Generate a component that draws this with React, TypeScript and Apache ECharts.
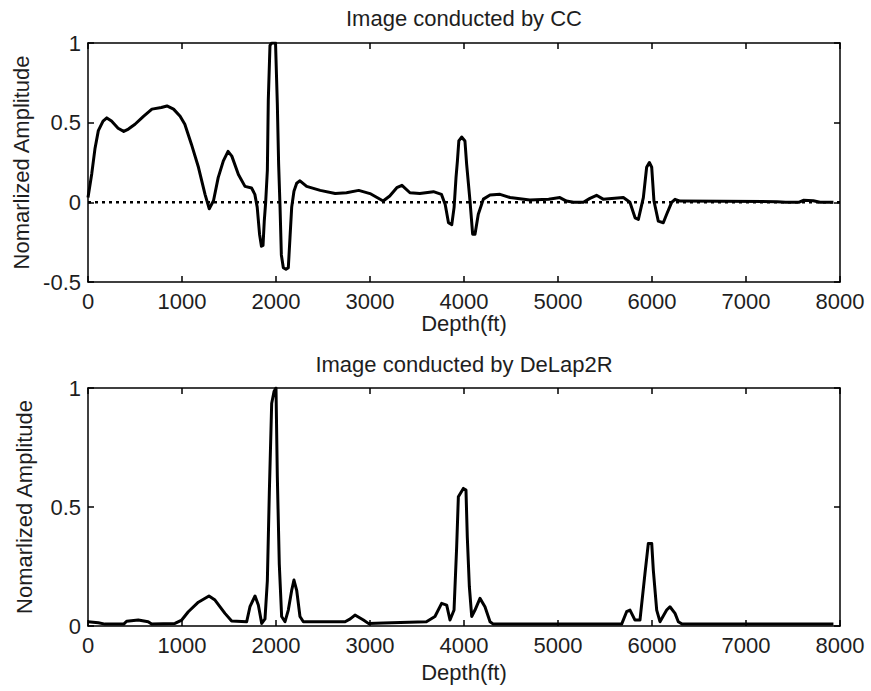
import React, { useEffect, useRef } from "react";
import * as echarts from "echarts";

// ---------- data ----------
const xTicks = [0, 1000, 2000, 3000, 4000, 5000, 6000, 7000, 8000];

const ccDepth = [
  0, 40, 75, 110, 160, 200, 250, 320, 380, 430, 500, 590, 680, 780, 840, 910, 980, 1030, 1100, 1175,
  1245, 1290, 1335, 1385, 1440, 1490, 1530, 1600, 1670, 1740, 1775, 1800, 1825, 1845, 1862, 1875, 1890,
  1908, 1918, 1936, 1955, 1995, 2014, 2028, 2043, 2057, 2078, 2106, 2131, 2149, 2167, 2191, 2220, 2255,
  2326, 2470, 2630, 2750, 2880, 3000, 3140, 3210, 3285, 3340, 3425, 3530, 3675, 3760, 3800, 3835, 3870,
  3895, 3915, 3930, 3945, 3975, 4010, 4028, 4064, 4092, 4117, 4152, 4206, 4277, 4383, 4490, 4700, 4900,
  5020, 5090, 5165, 5270, 5340, 5410, 5480, 5695, 5765, 5820, 5855, 5908, 5943, 5972, 5997, 6021, 6067,
  6120, 6156, 6209, 6245, 6300, 7330, 7420, 7560, 7610, 7716, 7787, 7930,
];
const ccValue = [
  0.03, 0.18, 0.34, 0.45, 0.51, 0.53, 0.51, 0.465, 0.445, 0.46, 0.49, 0.54, 0.585, 0.595, 0.605, 0.585, 0.54, 0.49, 0.365, 0.22,
  0.05, -0.04, 0.01, 0.155, 0.26, 0.32, 0.29, 0.175, 0.1, 0.09, 0.05, -0.03, -0.2, -0.275, -0.27, -0.12, 0.0,
  0.2, 0.64, 0.985, 1.0, 1.0, 0.62, 0.24, -0.03, -0.33, -0.41, -0.42, -0.41, -0.22, -0.03, 0.07, 0.12, 0.135,
  0.1, 0.075, 0.055, 0.06, 0.075, 0.055, 0.008, 0.04, 0.092, 0.107, 0.06, 0.055, 0.067, 0.05, -0.013, -0.128, -0.14,
  -0.03, 0.155, 0.26, 0.385, 0.41, 0.385, 0.24, 0.008, -0.2, -0.2, -0.075, 0.02, 0.046, 0.05, 0.03, 0.015, 0.02,
  0.03, 0.008, 0.0, 0.0, 0.025, 0.044, 0.02, 0.03, 0.0, -0.097, -0.107, 0.03, 0.22, 0.25, 0.22, 0.008, -0.118,
  -0.128, -0.075, 0.0, 0.019, 0.008, 0.004, 0.0, 0.0, 0.013, 0.01, 0.0, 0.0,
];

const dlDepth = [
  0, 110, 180, 380, 411, 535, 640, 677, 925, 997, 1067, 1174, 1287, 1351, 1457, 1528, 1688, 1723, 1777, 1812,
  1848, 1883, 1908, 1929, 1954, 1979, 2000, 2014, 2035, 2060, 2096, 2131, 2167, 2191, 2220, 2255, 2291, 2520,
  2735, 2790, 2840, 2930, 2986, 3140, 3600, 3691, 3762, 3816, 3851, 3894, 3922, 3940, 3993, 4021, 4035, 4057,
  4082, 4117, 4170, 4223, 4277, 4312, 5677, 5730, 5766, 5819, 5872, 5925, 5961, 5997, 6014, 6050, 6085, 6156,
  6191, 6245, 6280, 6320, 7930,
];
const dlValue = [
  0.018, 0.014, 0.008, 0.008, 0.02, 0.025, 0.018, 0.008, 0.011, 0.025, 0.06, 0.1, 0.126, 0.109, 0.053, 0.021, 0.018, 0.081, 0.126, 0.088,
  0.011, 0.03, 0.19, 0.56, 0.935, 0.985, 1.0, 0.63, 0.26, 0.04, 0.018, 0.067, 0.15, 0.193, 0.15, 0.04, 0.018, 0.018,
  0.018, 0.03, 0.046, 0.025, 0.01, 0.013, 0.018, 0.04, 0.095, 0.088, 0.025, 0.067, 0.333, 0.543, 0.578, 0.571, 0.375, 0.165,
  0.04, 0.067, 0.116, 0.081, 0.018, 0.008, 0.008, 0.06, 0.067, 0.025, 0.025, 0.22, 0.347, 0.347, 0.235, 0.067, 0.018, 0.067,
  0.081, 0.053, 0.018, 0.008, 0.008,
];

const zeroLine = [0, 8000];

const topTitle = "Image conducted by CC";
const bottomTitle = "Image conducted by DeLap2R";
const xName = "Depth(ft)";
const yName = "Nomarlized Amplitude";

// ---------- chart ----------
const FONT = "'Liberation Sans', Arial, Helvetica, sans-serif";
const TXT = "#1e1e1e";
const FS = 22;

function makeX(gridIndex: number, bottom: boolean, nameGap: number) {
  return {
    gridIndex,
    type: "value",
    min: xTicks[0],
    max: xTicks[xTicks.length - 1],
    interval: xTicks[1] - xTicks[0],
    position: bottom ? "bottom" : "top",
    axisLine: { show: true, onZero: false, lineStyle: { color: "#000", width: 1.5 } },
    axisTick: { show: true, inside: true, length: 6, lineStyle: { color: "#000", width: 1.5 } },
    axisLabel: {
      show: bottom,
      color: TXT,
      fontSize: FS,
      fontFamily: FONT,
      margin: 8,
      showMinLabel: true,
      showMaxLabel: true,
      formatter: (v: number) => String(v),
    },
    splitLine: { show: false },
    name: bottom ? xName : "",
    nameLocation: "middle",
    nameGap,
    nameTextStyle: { color: TXT, fontSize: FS, fontFamily: FONT },
  };
}

function makeY(gridIndex: number, left: boolean, min: number, max: number) {
  return {
    gridIndex,
    type: "value",
    min,
    max,
    interval: 0.5,
    position: left ? "left" : "right",
    axisLine: { show: true, onZero: false, lineStyle: { color: "#000", width: 1.5 } },
    axisTick: { show: true, inside: true, length: 6, lineStyle: { color: "#000", width: 1.5 } },
    axisLabel: {
      show: left,
      color: TXT,
      fontSize: FS,
      fontFamily: FONT,
      margin: 7,
      showMinLabel: true,
      showMaxLabel: true,
      formatter: (v: number) => String(v),
    },
    splitLine: { show: false },
    name: left ? yName : "",
    nameLocation: "middle",
    nameRotate: 90,
    nameGap: 53,
    nameTextStyle: { color: TXT, fontSize: FS, fontFamily: FONT },
  };
}

export default function App() {
  const ref = useRef<HTMLDivElement>(null);
  useEffect(() => {
    if (!ref.current) return;
    const chart = echarts.init(ref.current, undefined, { renderer: "svg" });
    const cc = ccDepth.map((d, i) => [d, ccValue[i]]);
    const dl = dlDepth.map((d, i) => [d, dlValue[i]]);
    const zero = zeroLine.map((d) => [d, 0]);
    chart.setOption({
      animation: false,
      backgroundColor: "#fff",
      grid: [
        { left: 88, top: 43, width: 752, height: 239, show: false },
        { left: 88, top: 388, width: 752, height: 238, show: false },
      ],
      xAxis: [makeX(0, true, 27), makeX(0, false, 0), makeX(1, true, 35), makeX(1, false, 0)],
      yAxis: [makeY(0, true, -0.5, 1), makeY(0, false, -0.5, 1), makeY(1, true, 0, 1), makeY(1, false, 0, 1)],
      graphic: [
        {
          type: "text",
          x: 464,
          y: 18,
          style: {
            text: topTitle,
            fill: TXT,
            font: `${FS}px ${FONT}`,
            textAlign: "center",
            textVerticalAlign: "middle",
          },
        },
        {
          type: "text",
          x: 464,
          y: 364,
          style: {
            text: bottomTitle,
            fill: TXT,
            font: `${FS}px ${FONT}`,
            textAlign: "center",
            textVerticalAlign: "middle",
          },
        },
      ],
      series: [
        {
          type: "line",
          xAxisIndex: 0,
          yAxisIndex: 0,
          data: zero,
          symbol: "none",
          lineStyle: { color: "#000", width: 2.5, type: [3, 4] },
          z: 3,
        },
        {
          type: "line",
          xAxisIndex: 0,
          yAxisIndex: 0,
          data: cc,
          symbol: "none",
          lineStyle: { color: "#000", width: 3, join: "round" },
          z: 2,
        },
        {
          type: "line",
          xAxisIndex: 2,
          yAxisIndex: 2,
          data: dl,
          symbol: "none",
          lineStyle: { color: "#000", width: 3, join: "round" },
          z: 2,
        },
      ],
    });
    return () => chart.dispose();
  }, []);
  return (
    <div
      ref={ref}
      style={{ position: "fixed", left: 0, top: 0, width: 871, height: 691, background: "#fff" }}
    />
  );
}
